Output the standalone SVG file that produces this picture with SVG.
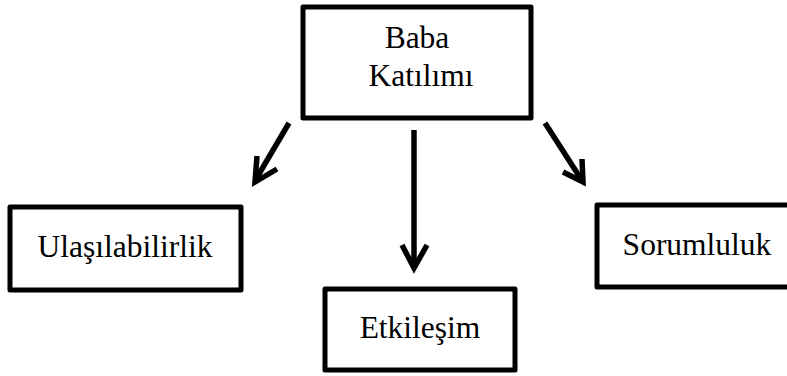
<svg xmlns="http://www.w3.org/2000/svg" width="787" height="376" viewBox="0 0 787 376">
<style>
.box{fill:#fff;stroke:#000;stroke-width:5;stroke-linejoin:round}
.lbl{font-family:"Liberation Serif","Times New Roman",serif;font-size:31.5px;fill:#000;text-anchor:middle}
.con{stroke:#000;stroke-width:5.5;fill:none;stroke-linecap:butt}
.head{stroke:#000;stroke-width:5.5;fill:none;stroke-linejoin:miter;stroke-linecap:butt}
</style>
<rect width="787" height="376" fill="#fff"/>
<g id="n-baba">
<rect class="box" x="303" y="7" width="228" height="111"/>
<text class="lbl" x="417" y="48">Baba</text>
<text class="lbl" x="421" y="86">Katılımı</text>
</g>
<g id="n-ulasilabilirlik">
<rect class="box" x="10" y="207" width="231" height="83"/>
<text class="lbl" x="125" y="257">Ulaşılabilirlik</text>
</g>
<g id="n-etkilesim">
<rect class="box" x="325" y="289" width="190" height="81"/>
<text class="lbl" x="420" y="338">Etkileşim</text>
</g>
<g id="n-sorumluluk">
<rect class="box" x="597" y="205" width="200" height="82"/>
<text class="lbl" x="697" y="255">Sorumluluk</text>
</g>
<g id="connectors">
<line class="con" x1="289" y1="123" x2="256" y2="179"/>
<polyline class="head" points="257,156 255,182 277,169"/>
<line class="con" x1="414" y1="130" x2="414" y2="265"/>
<polyline class="head" points="402,245 414,268 427,245"/>
<line class="con" x1="545" y1="123" x2="581" y2="179"/>
<polyline class="head" points="582,159 583,182 563,172"/>
</g>
</svg>
